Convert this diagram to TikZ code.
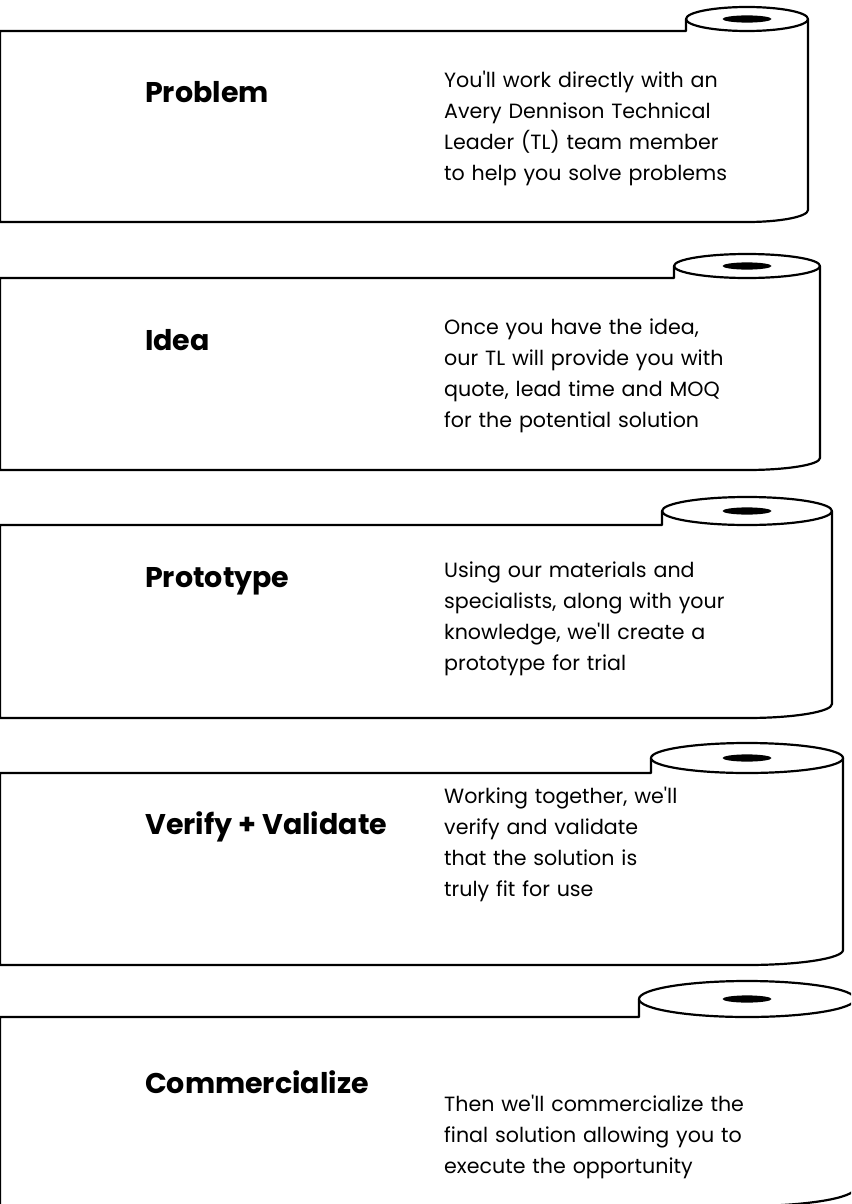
\documentclass[tikz,border=0pt]{standalone}
\usepackage{fontspec}
\setmainfont{Poppins}[Ligatures=TeXOff]
\begin{document}
\begin{tikzpicture}[x=1pt,y=-1pt,
  rollline/.style={line width=2.2pt,line join=round},
  titletext/.style={anchor=base west,inner sep=0pt,font=\fontsize{28.5}{34}\selectfont\bfseries},
  bodytext/.style={anchor=base west,inner sep=0pt,text width=380pt,align=left,font=\fontsize{20.6}{31}\selectfont}]
\useasboundingbox (0,0) rectangle (851,1204);
\fill[white] (0,0) rectangle (851,1204);
\clip (0,0) rectangle (851,1204);
\foreach \t/\b/\rx/\ry in {31/222/61/12, 278/470/73/12, 525/718/85/14, 773/965/96/15, 1017/1206/108/18}{
  \pgfmathsetmacro\cy{\t-\ry}
  \pgfmathsetmacro\xl{747-\rx}
  \pgfmathsetmacro\xr{747+\rx}
  \pgfmathsetmacro\yb{\b-\ry}
  \pgfmathsetmacro\ca{\yb+0.552*\ry}
  \pgfmathsetmacro\cb{747+0.552*\rx}
  \draw[rollline] (\xl,\cy) -- (\xl,\t) -- (0,\t) -- (0,\b) -- (747,\b) .. controls (\cb,\b) and (\xr,\ca) .. (\xr,\yb) -- (\xr,\cy);
  \draw[rollline,fill=white] (747,\cy) ellipse [x radius=\rx pt, y radius=\ry pt];
  \fill[black] (747,\cy) ellipse [x radius=24.5pt, y radius=3.6pt];
}
\node[titletext] (t1) at (145,103) {Problem};
\node[titletext] (t2) at (145,350) {Idea};
\node[titletext] (t3) at (145,587) {Prototype};
\node[titletext] (t4) at (145,834) {Verify + Validate};
\node[titletext] (t5) at (145,1093) {Commercialize};
\node[bodytext] (b1) at (444,88) {You'll work directly with an\\Avery Dennison Technical\\Leader (TL) team member\\to help you solve problems};
\node[bodytext] (b2) at (444,334) {Once you have the idea,\\our TL will provide you with\\quote, lead time and MOQ\\for the potential solution};
\node[bodytext] (b3) at (444,577) {Using our materials and\\specialists, along with your\\knowledge, we'll create a\\prototype for trial};
\node[bodytext] (b4) at (444,803) {Working together, we'll\\verify and validate\\that the solution is\\truly fit for use};
\node[bodytext] (b5) at (444,1111) {Then we'll commercialize the\\final solution allowing you to\\execute the opportunity};
\end{tikzpicture}
\end{document}
